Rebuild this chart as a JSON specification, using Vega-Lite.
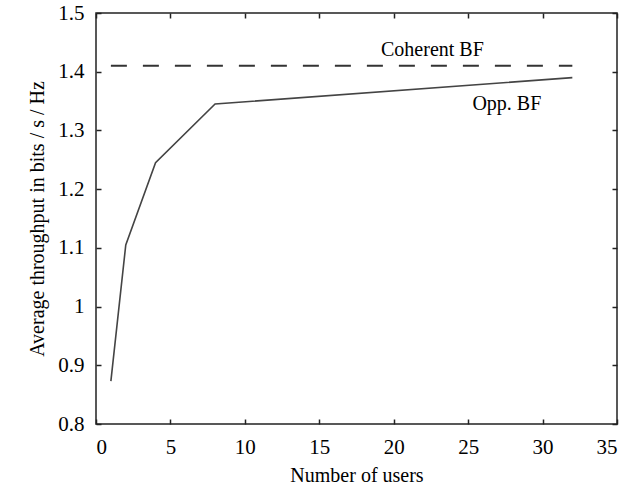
{
  "$schema": "https://vega.github.io/schema/vega-lite/v6.json",
  "width": 521,
  "height": 411,
  "autosize": {"type": "none"},
  "padding": {"left": 96, "top": 13, "right": 13, "bottom": 70},
  "background": "white",
  "config": {
    "view": {"stroke": "#222", "strokeWidth": 1.5},
    "font": "Liberation Serif",
    "axis": {
      "grid": false,
      "domain": false,
      "labelFont": "Liberation Serif",
      "labelFontSize": 21,
      "labelColor": "#000",
      "titleFont": "Liberation Serif",
      "titleFontSize": 20,
      "titleFontWeight": "normal",
      "titleColor": "#000"
    }
  },
  "datasets": {
    "opp": [
      {"users": 1, "throughput": 0.873},
      {"users": 2, "throughput": 1.105},
      {"users": 4, "throughput": 1.245},
      {"users": 8, "throughput": 1.345},
      {"users": 32, "throughput": 1.39}
    ],
    "coh": [
      {"users": 1, "throughput": 1.41},
      {"users": 32, "throughput": 1.41}
    ],
    "labels": [
      {"users": 22.6, "throughput": 1.437, "text": "Coherent BF"},
      {"users": 27.6, "throughput": 1.345, "text": "Opp. BF"}
    ]
  },
  "layer": [
    {
      "data": {"name": "opp"},
      "mark": {"type": "line", "color": "#444", "strokeWidth": 1.6},
      "encoding": {
        "x": {"field": "users", "type": "quantitative",
          "scale": {"domain": [0, 35], "nice": false},
          "axis": {"orient": "bottom", "title": "Number of users", "tickCount": 7, "tickSize": -5, "tickColor": "#222", "tickWidth": 1.5, "labelPadding": 17, "titlePadding": 8}},
        "y": {"field": "throughput", "type": "quantitative",
          "scale": {"domain": [0.8, 1.5], "nice": false, "zero": false},
          "axis": {"orient": "left", "title": "Average throughput in bits / s / Hz", "format": "~g", "tickCount": 7, "tickSize": -5, "tickColor": "#222", "tickWidth": 1.5, "labelPadding": 17, "titlePadding": 10}}
      }
    },
    {
      "data": {"name": "coh"},
      "mark": {"type": "line", "color": "#333", "strokeWidth": 2, "strokeDash": [16, 16]},
      "encoding": {
        "x": {"field": "users", "type": "quantitative", "axis": null},
        "y": {"field": "throughput", "type": "quantitative", "axis": null}
      }
    },
    {
      "data": {"name": "labels"},
      "mark": {"type": "text", "font": "Liberation Serif", "fontSize": 20, "color": "#000"},
      "encoding": {
        "x": {"field": "users", "type": "quantitative", "axis": null},
        "y": {"field": "throughput", "type": "quantitative", "axis": null},
        "text": {"field": "text"}
      }
    },
    {
      "data": {"name": "coh"},
      "mark": {"type": "point", "opacity": 0},
      "encoding": {
        "x": {"field": "users", "type": "quantitative",
          "axis": {"orient": "top", "title": null, "labels": false, "tickCount": 7, "tickSize": -5, "tickColor": "#222", "tickWidth": 1.5}},
        "y": {"field": "throughput", "type": "quantitative",
          "axis": {"orient": "right", "title": null, "labels": false, "tickCount": 7, "tickSize": -5, "tickColor": "#222", "tickWidth": 1.5}}
      }
    }
  ],
  "resolve": {"axis": {"x": "independent", "y": "independent"}}
}
